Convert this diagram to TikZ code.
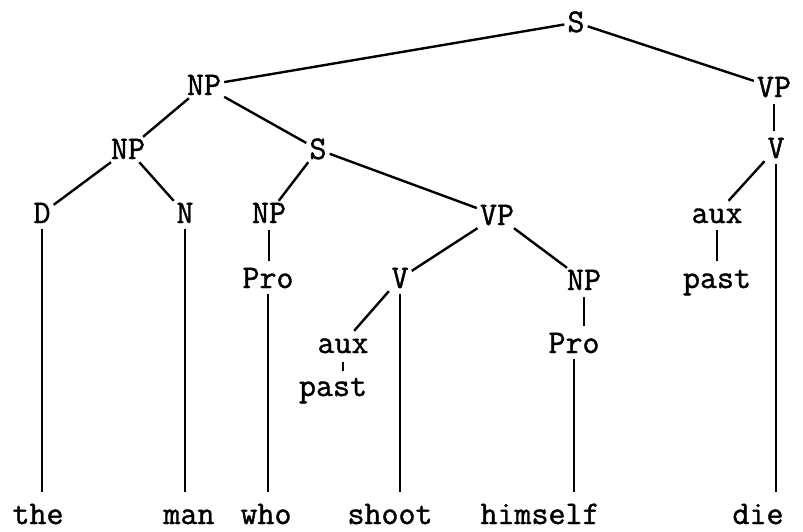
\documentclass[tikz,border=0pt]{standalone}
\usepackage{fontspec}
\newfontfamily\treefont[FakeBold=1.2]{Latin Modern Mono}
\begin{document}
\begin{tikzpicture}[x=1pt,y=-1pt,
  lbl/.style={anchor=base, inner sep=3pt, text height=19pt, text depth=0pt, font=\fontsize{33}{38}\treefont},
  edge/.style={line width=2.4pt},
  vedge/.style={line width=2.4pt, shorten <=4pt, shorten >=5pt},
  long/.style={line width=2.4pt, shorten <=3pt, shorten >=10pt}]
\useasboundingbox (0,0) rectangle (803,531);
% nodes
\node[lbl] (S)    at (576,32)  {S};
\node[lbl] (NP1)  at (204,95)  {NP};
\node[lbl] (VP1)  at (774,97)  {VP};
\node[lbl] (V1)   at (776,158) {V};
\node[lbl] (NP2)  at (128,159) {NP};
\node[lbl] (S2)   at (318,159) {S};
\node[lbl] (D)    at (42,223)  {D};
\node[lbl] (N)    at (185,223) {N};
\node[lbl] (NP3)  at (269,223) {NP};
\node[lbl] (VP2)  at (497,225) {VP};
\node[lbl] (aux1) at (717,223) {aux};
\node[lbl] (Pro1) at (268,288) {Pro};
\node[lbl] (V2)   at (400,288) {V};
\node[lbl] (NP4)  at (584,290) {NP};
\node[lbl] (past1) at (717,288) {past};
\node[lbl] (aux2) at (343,353) {aux};
\node[lbl] (Pro2) at (574,353) {Pro};
\node[lbl] (past2) at (333,396) {past};
\node[lbl] (the)  at (38,524)  {the};
\node[lbl] (man)  at (189,524) {man};
\node[lbl] (who)  at (266,524) {who};
\node[lbl] (shoot) at (390,524) {shoot};
\node[lbl] (him)  at (540,524) {himself};
\node[lbl] (die)  at (758,524) {die};
% diagonal edges
\draw[edge] (S) -- (NP1);
\draw[edge] (S) -- (VP1);
\draw[edge] (NP1) -- (NP2);
\draw[edge] (NP1) -- (S2);
\draw[edge] (NP2) -- (D);
\draw[edge] (NP2) -- (N);
\draw[edge] (S2) -- (NP3);
\draw[edge] (S2) -- (VP2);
\draw[edge] (VP2) -- (V2);
\draw[edge] (VP2) -- (NP4);
\draw[edge] (V2) -- (aux2);
\draw[edge] (V1) -- (aux1);
% short vertical edges
\draw[vedge] (VP1.south) -- (VP1.south |- V1.north);
\draw[vedge] (NP3.south) -- (NP3.south |- Pro1.north);
\draw[vedge] (NP4.south) -- (NP4.south |- Pro2.north);
\draw[vedge] (aux1.south) -- (aux1.south |- past1.north);
\draw[line width=1.5pt, shorten <=6pt, shorten >=3pt] (aux2.south) -- (aux2.south |- past2.north);
% long vertical edges
\draw[long] (D.south) -- (D.south |- the.north);
\draw[long] (N.south) -- (N.south |- man.north);
\draw[long] (Pro1.south) -- (Pro1.south |- who.north);
\draw[long] (V2.south) -- (V2.south |- shoot.north);
\draw[long] (Pro2.south) -- (Pro2.south |- him.north);
\draw[long] (V1.south) -- (V1.south |- die.north);
\end{tikzpicture}
\end{document}
